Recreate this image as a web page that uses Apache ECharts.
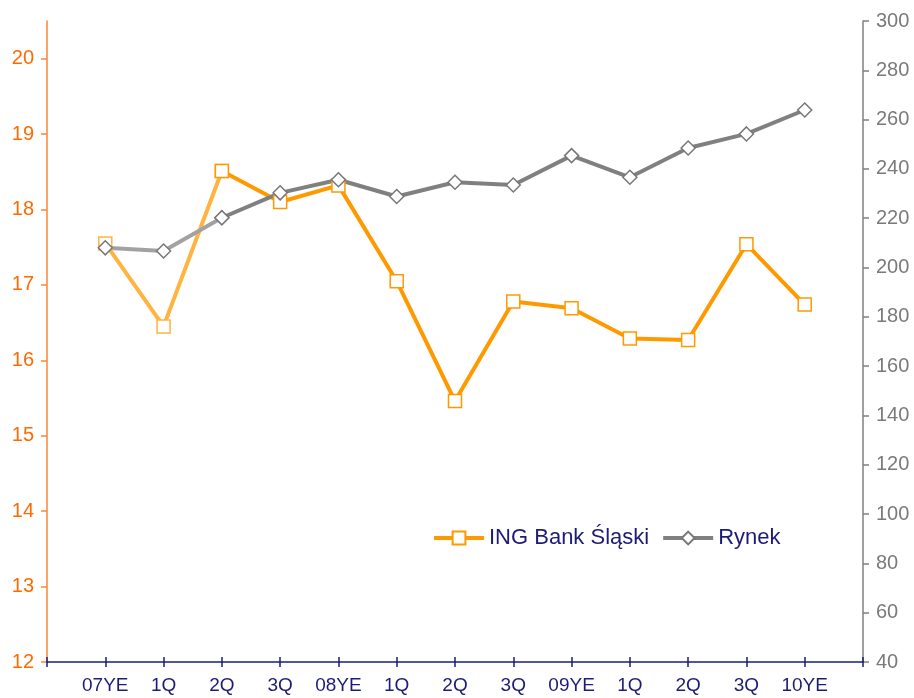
<!DOCTYPE html>
<html>
<head>
<meta charset="utf-8">
<script src="https://cdn.jsdelivr.net/npm/echarts@6/dist/echarts.min.js"></script>
<style>
  html, body { margin: 0; padding: 0; background: #fff; }
  #chart { width: 914px; height: 698px; }
</style>
</head>
<body>
<div id="chart"></div>
<script>
// kategorie osi X
const categories = ['07YE', '1Q', '2Q', '3Q', '08YE', '1Q', '2Q', '3Q', '09YE', '1Q', '2Q', '3Q', '10YE']
// ING Bank Śląski (lewa oś)
const ingValues = [17.55, 16.45, 18.51, 18.10, 18.32, 17.05, 15.46, 16.78, 16.69, 16.29, 16.27, 17.54, 16.74]
// Rynek (prawa oś)
const rynekValues = [208.0, 206.7, 220.2, 230.3, 235.6, 228.8, 234.6, 233.5, 245.4, 236.6, 248.5, 254.2, 263.9]
const leftTicks = [12, 13, 14, 15, 16, 17, 18, 19, 20]

const font = 'Liberation Sans, Arial, sans-serif'
const navy = '#1c1c78'
const orange = '#ff9900'
const orangeLight = '#ffb340'
const grey = '#808080'
const greyLight = '#a2a2a2'

// pierwsze dwa odcinki sa jasniejsze
const toPairs = arr => arr.map((v, i) => [i, v])
const ingPairs = toPairs(ingValues)
const rynekPairs = toPairs(rynekValues)

const xLabel = v => (v >= 0 && v < categories.length ? categories[v] : '')

const option = {
  animation: false,
  grid: { left: 47, right: 51, top: 21, bottom: 36, containLabel: false },
  legend: {
    left: 427,
    top: 522,
    itemWidth: 50,
    itemHeight: 16,
    itemGap: 12,
    data: ['ING Bank Śląski', 'Rynek'],
    lineStyle: { width: 4 },
    textStyle: { color: navy, fontSize: 22, fontFamily: font }
  },
  xAxis: [
    {
      type: 'value',
      min: -1,
      max: 13,
      interval: 1,
      splitLine: { show: false },
      axisLine: { onZero: false, lineStyle: { color: navy, width: 1.5 } },
      axisTick: { length: 5, lineStyle: { color: navy, width: 1.5 } },
      axisLabel: { formatter: xLabel, color: navy, fontSize: 19, fontFamily: font, margin: 14 }
    },
    {
      type: 'value',
      position: 'bottom',
      min: -1,
      max: 13,
      interval: 1,
      splitLine: { show: false },
      axisLine: { show: false, onZero: false },
      axisTick: { inside: true, length: 5, lineStyle: { color: navy, width: 1.5 } },
      axisLabel: { show: false }
    }
  ],
  yAxis: [
    {
      type: 'value',
      min: 12,
      max: 20.5,
      position: 'left',
      splitLine: { show: false },
      axisLine: { show: true, onZero: false, lineStyle: { color: '#fb8636', width: 1.5 } },
      axisTick: { show: true, length: 6, customValues: leftTicks, lineStyle: { color: '#fb8636', width: 1.5 } },
      axisLabel: { customValues: leftTicks, color: '#ff6a00', fontSize: 20, fontFamily: font, margin: 13 }
    },
    {
      type: 'value',
      min: 40,
      max: 300,
      interval: 20,
      position: 'right',
      splitLine: { show: false },
      axisLine: { show: true, onZero: false, lineStyle: { color: grey, width: 1.5 } },
      axisTick: { show: true, length: 6, lineStyle: { color: grey, width: 1.5 } },
      axisLabel: { color: '#7a7a7a', fontSize: 20, fontFamily: font, margin: 13 }
    }
  ],
  series: [
    {
      name: 'ING light',
      type: 'line',
      yAxisIndex: 0,
      data: ingPairs.slice(0, 3),
      symbol: 'rect',
      symbolSize: 13,
      lineStyle: { color: orangeLight, width: 4 },
      itemStyle: { color: '#fff', borderColor: orangeLight, borderWidth: 1.5 }
    },
    {
      name: 'ING Bank Śląski',
      type: 'line',
      yAxisIndex: 0,
      data: ingPairs.slice(2),
      symbol: 'rect',
      symbolSize: 13,
      lineStyle: { color: orange, width: 4 },
      itemStyle: { color: '#fff', borderColor: orange, borderWidth: 1.5 }
    },
    {
      name: 'Rynek light',
      type: 'line',
      yAxisIndex: 1,
      data: rynekPairs.slice(0, 3),
      symbol: 'diamond',
      symbolSize: 14,
      lineStyle: { color: greyLight, width: 4 },
      itemStyle: { color: '#fff', borderColor: '#777', borderWidth: 1.5 }
    },
    {
      name: 'Rynek',
      type: 'line',
      yAxisIndex: 1,
      data: rynekPairs.slice(2),
      symbol: 'diamond',
      symbolSize: 14,
      lineStyle: { color: grey, width: 4 },
      itemStyle: { color: '#fff', borderColor: '#777', borderWidth: 1.5 }
    }
  ]
}

const myChart = echarts.init(document.getElementById('chart'), null, { renderer: 'canvas' })
myChart.setOption(option)
</script>
</body>
</html>
